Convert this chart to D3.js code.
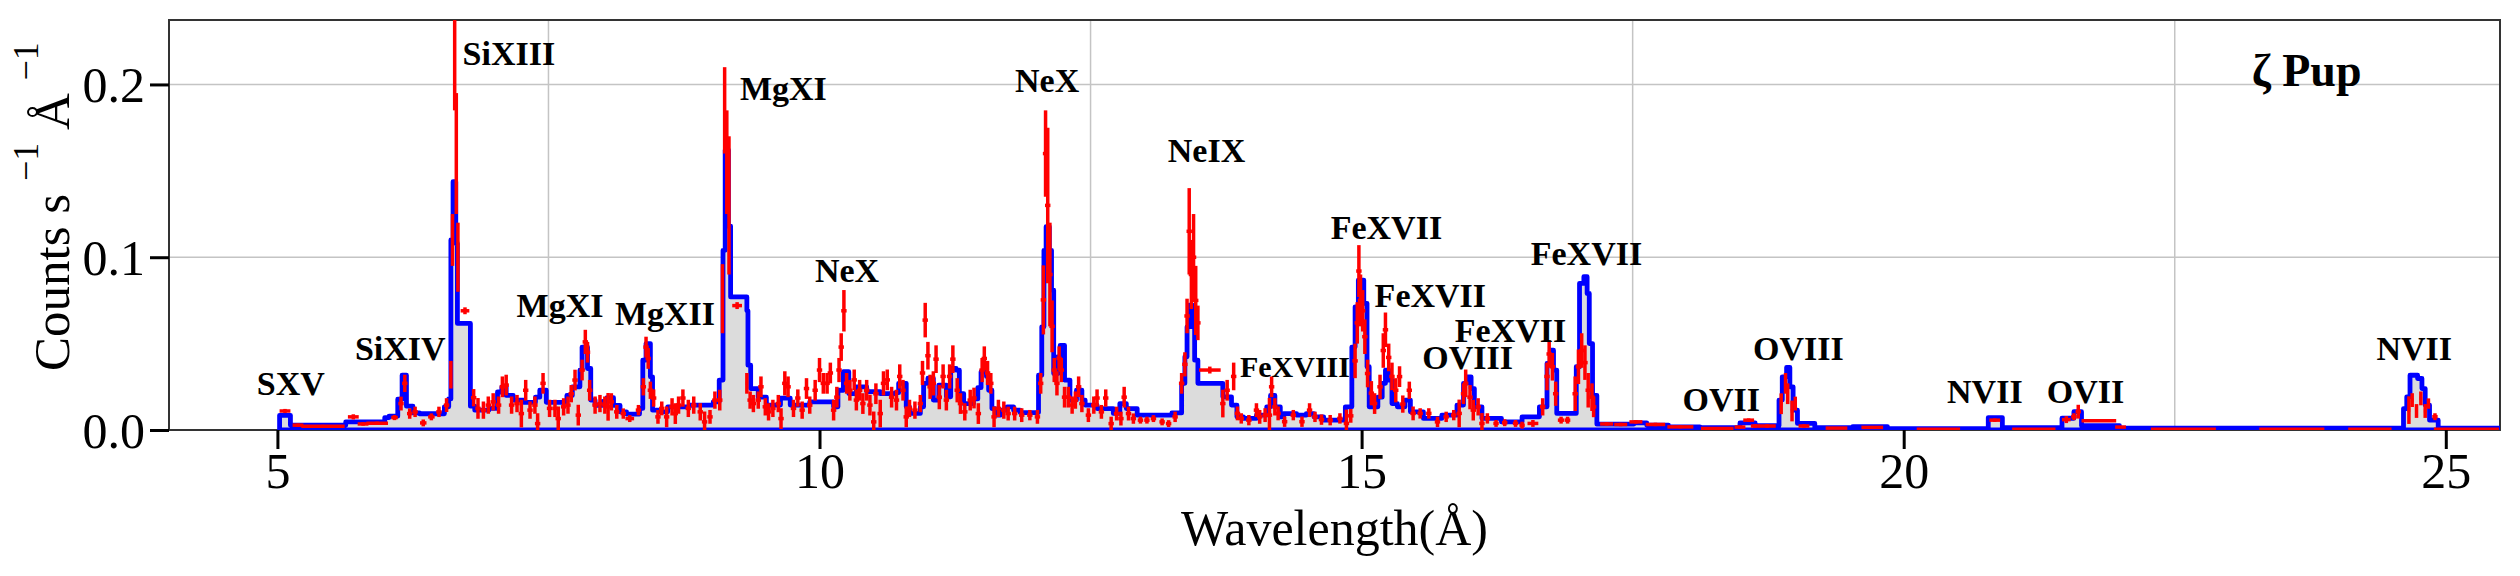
<!DOCTYPE html>
<html>
<head>
<meta charset="utf-8">
<script src="https://cdn.jsdelivr.net/npm/d3@7"></script>
<style>
  body { margin: 0; background: #fff; }
  text { font-family: "Liberation Serif", "Times New Roman", serif; }
</style>
</head>
<body>
<svg id="chart" width="2520" height="576"></svg>
<script>

// axes
const xDomain = [4, 25.5];
const yDomain = [0, 0.2373];
const xTicks = [5, 10, 15, 20, 25];
const yTicks = [0, 0.1, 0.2];
const xGrid = [7.5, 12.5, 17.5, 22.5];
const yGrid = [0.1, 0.2];

// model spectrum: [left bin edge (Å), counts/s/Å]
const modelSteps = [
  [5.02, 0.0085], [5.12, 0.0028], [5.63, 0.0047], [5.99, 0.0072], [6.03, 0.008],
  [6.11, 0.0178], [6.15, 0.0317], [6.19, 0.0138], [6.25, 0.0099], [6.31, 0.0094],
  [6.54, 0.0134], [6.58, 0.018], [6.60, 0.11], [6.62, 0.1437], [6.645, 0.108],
  [6.66, 0.0617], [6.78, 0.0138], [6.82, 0.0115], [6.95, 0.0125], [7.03, 0.022],
  [7.07, 0.025], [7.11, 0.020], [7.175, 0.0173], [7.27, 0.016], [7.38, 0.019],
  [7.42, 0.023], [7.48, 0.016], [7.67, 0.020], [7.72, 0.025], [7.79, 0.0346],
  [7.81, 0.048], [7.86, 0.0356], [7.89, 0.0173], [7.93, 0.0143], [8.00, 0.0165],
  [8.04, 0.0187], [8.10, 0.0143], [8.16, 0.0105], [8.22, 0.0092], [8.34, 0.0125],
  [8.37, 0.0404], [8.40, 0.050], [8.44, 0.0308], [8.46, 0.0115], [8.53, 0.0105],
  [8.60, 0.0134], [8.80, 0.0144], [9.02, 0.0163], [9.075, 0.0289], [9.11, 0.104],
  [9.13, 0.162], [9.16, 0.118], [9.18, 0.077], [9.33, 0.069], [9.34, 0.0375],
  [9.365, 0.024], [9.435, 0.019], [9.51, 0.0144], [9.64, 0.0185], [9.73, 0.0144],
  [9.91, 0.0163], [10.13, 0.0134], [10.17, 0.023], [10.22, 0.0337], [10.27, 0.0211],
  [10.34, 0.025], [10.435, 0.0222], [10.56, 0.021], [10.70, 0.0216], [10.73, 0.027],
  [10.80, 0.0134], [10.83, 0.0096], [10.93, 0.0134], [10.96, 0.027], [11.00, 0.030],
  [11.05, 0.0173], [11.10, 0.026], [11.17, 0.0192], [11.21, 0.0356], [11.26, 0.0346],
  [11.29, 0.021], [11.33, 0.0153], [11.42, 0.018], [11.46, 0.0245], [11.49, 0.0337],
  [11.54, 0.031], [11.56, 0.023], [11.59, 0.0124], [11.62, 0.0086], [11.67, 0.0115],
  [11.73, 0.0134], [11.79, 0.0115], [11.85, 0.0101], [12.02, 0.0317], [12.05, 0.0597],
  [12.07, 0.104], [12.09, 0.1177], [12.12, 0.104], [12.14, 0.0809], [12.16, 0.0327],
  [12.20, 0.0424], [12.22, 0.049], [12.26, 0.0289], [12.31, 0.0173], [12.37, 0.023],
  [12.42, 0.0173], [12.45, 0.0144], [12.56, 0.0124], [12.71, 0.0096], [12.77, 0.0153],
  [12.83, 0.0124], [12.93, 0.0086], [13.25, 0.0099], [13.34, 0.027], [13.37, 0.0424],
  [13.39, 0.0597], [13.41, 0.0723], [13.44, 0.0597], [13.46, 0.0404], [13.49, 0.027],
  [13.72, 0.0192], [13.80, 0.0144], [13.85, 0.0076], [13.91, 0.0067], [14.03, 0.0086],
  [14.125, 0.0134], [14.16, 0.020], [14.20, 0.0134], [14.25, 0.0076], [14.28, 0.0095],
  [14.40, 0.0086], [14.49, 0.0095], [14.56, 0.0076], [14.65, 0.0057], [14.85, 0.0134],
  [14.91, 0.048], [14.94, 0.0713], [14.97, 0.0868], [15.02, 0.0733], [15.05, 0.0366],
  [15.07, 0.0134], [15.15, 0.019], [15.19, 0.027], [15.22, 0.0347], [15.25, 0.0289],
  [15.28, 0.0153], [15.33, 0.0134], [15.40, 0.0173], [15.45, 0.0105], [15.57, 0.0067],
  [15.74, 0.0086], [15.88, 0.0144], [15.94, 0.027], [15.97, 0.0308], [16.01, 0.024],
  [16.04, 0.0134], [16.11, 0.0067], [16.29, 0.0047], [16.48, 0.0076], [16.64, 0.0134],
  [16.71, 0.0385], [16.74, 0.0462], [16.77, 0.0347], [16.80, 0.0096], [16.98, 0.0366],
  [17.01, 0.0849], [17.05, 0.0887], [17.08, 0.079], [17.10, 0.050], [17.13, 0.020],
  [17.17, 0.0034], [17.51, 0.0041], [17.63, 0.0028], [17.83, 0.0018], [18.12, 0.0014],
  [18.49, 0.0041], [18.63, 0.0025], [18.85, 0.0173], [18.88, 0.0308], [18.92, 0.0362],
  [18.95, 0.025], [18.98, 0.0115], [19.02, 0.0038], [19.18, 0.0014], [19.53, 0.002],
  [19.85, 0.0008], [20.78, 0.0072], [20.91, 0.0014], [21.46, 0.0068], [21.57, 0.0106],
  [21.64, 0.0025], [21.99, 0.001], [24.61, 0.0124], [24.64, 0.0192], [24.67, 0.0317],
  [24.74, 0.0298], [24.78, 0.024], [24.81, 0.0144], [24.85, 0.0057], [24.93, 0.001]
];
const modelEnd = 25.6;

// observed spectrum: [wavelength (Å), counts/s/Å, error, half bin width (default 0.025)]
const observed = [
  [5.07, 0.011, 0.0012, 0.05], [5.19, 0.0028, 0.001, 0.05], [5.42, 0.0022, 0.0008, 0.2],
  [5.70, 0.0076, 0.0015, 0.05], [5.79, 0.0035, 0.001, 0.05], [5.92, 0.0039, 0.001, 0.1],
  [6.08, 0.0072, 0.0015, 0.03], [6.14, 0.0153, 0.004], [6.175, 0.027, 0.005],
  [6.22, 0.0095, 0.003], [6.27, 0.0105, 0.003], [6.345, 0.0041, 0.002, 0.03],
  [6.42, 0.0076, 0.002, 0.03], [6.49, 0.0105, 0.003], [6.56, 0.0144, 0.004],
  [6.60, 0.032, 0.008, 0.01], [6.615, 0.11, 0.015, 0.008], [6.635, 0.215, 0.03, 0.008],
  [6.65, 0.16, 0.035, 0.008], [6.665, 0.10, 0.02, 0.008], [6.73, 0.069, 0.002, 0.04],
  [6.81, 0.0187, 0.005], [6.85, 0.0125, 0.006], [6.90, 0.0115, 0.005], [6.945, 0.0144, 0.005],
  [6.99, 0.0163, 0.005], [7.04, 0.0144, 0.005], [7.075, 0.025, 0.006], [7.11, 0.026, 0.006],
  [7.16, 0.0144, 0.005], [7.21, 0.0153, 0.005], [7.25, 0.0095, 0.008], [7.29, 0.023, 0.006],
  [7.33, 0.0115, 0.005], [7.375, 0.0144, 0.005], [7.40, 0.0037, 0.006], [7.45, 0.027, 0.006],
  [7.51, 0.0125, 0.005], [7.56, 0.0125, 0.005], [7.59, 0.0066, 0.007], [7.64, 0.0134, 0.005],
  [7.68, 0.0144, 0.005], [7.71, 0.021, 0.005], [7.745, 0.0289, 0.006], [7.775, 0.0086, 0.006],
  [7.81, 0.0347, 0.006], [7.84, 0.051, 0.007], [7.86, 0.045, 0.006], [7.88, 0.023, 0.006],
  [7.93, 0.0144, 0.005], [7.975, 0.0153, 0.005], [8.02, 0.0144, 0.005], [8.05, 0.0134, 0.008],
  [8.08, 0.0163, 0.005], [8.13, 0.0105, 0.004], [8.19, 0.0095, 0.003], [8.25, 0.0066, 0.002, 0.04],
  [8.33, 0.0115, 0.003], [8.375, 0.025, 0.005], [8.40, 0.048, 0.006], [8.42, 0.0414, 0.006],
  [8.44, 0.023, 0.005], [8.47, 0.0185, 0.005], [8.51, 0.0076, 0.004], [8.545, 0.0125, 0.004],
  [8.59, 0.0076, 0.006], [8.64, 0.0134, 0.005], [8.67, 0.0095, 0.006], [8.70, 0.0144, 0.005],
  [8.74, 0.0185, 0.005], [8.79, 0.0125, 0.005], [8.84, 0.0144, 0.005], [8.90, 0.0105, 0.005],
  [8.94, 0.0047, 0.006], [8.99, 0.0076, 0.004], [9.035, 0.0173, 0.005], [9.08, 0.0173, 0.006],
  [9.105, 0.076, 0.02, 0.01], [9.125, 0.185, 0.025, 0.008], [9.145, 0.155, 0.03, 0.008],
  [9.165, 0.13, 0.04, 0.008], [9.24, 0.072, 0.002, 0.045], [9.33, 0.027, 0.006, 0.01],
  [9.36, 0.0173, 0.005], [9.39, 0.0153, 0.005], [9.435, 0.0173, 0.005], [9.46, 0.025, 0.006],
  [9.50, 0.0134, 0.005], [9.53, 0.0105, 0.005], [9.57, 0.0125, 0.005], [9.62, 0.0153, 0.005],
  [9.645, 0.0066, 0.006], [9.68, 0.027, 0.007], [9.71, 0.025, 0.006], [9.76, 0.0125, 0.005],
  [9.80, 0.0185, 0.005], [9.84, 0.0115, 0.005], [9.88, 0.024, 0.006], [9.91, 0.0144, 0.005],
  [9.96, 0.023, 0.006], [10.00, 0.0347, 0.007], [10.035, 0.027, 0.006], [10.07, 0.027, 0.006],
  [10.10, 0.033, 0.006], [10.13, 0.0115, 0.006], [10.16, 0.019, 0.006], [10.18, 0.0347, 0.007],
  [10.20, 0.048, 0.008], [10.225, 0.069, 0.012], [10.25, 0.027, 0.006], [10.28, 0.023, 0.006],
  [10.32, 0.029, 0.006], [10.34, 0.0173, 0.006], [10.37, 0.023, 0.006], [10.40, 0.0153, 0.006],
  [10.435, 0.023, 0.006], [10.465, 0.0144, 0.006], [10.50, 0.0047, 0.006], [10.52, 0.021, 0.006],
  [10.56, 0.0095, 0.008], [10.59, 0.027, 0.007], [10.625, 0.029, 0.006], [10.665, 0.019, 0.006],
  [10.71, 0.0173, 0.006], [10.74, 0.031, 0.007], [10.77, 0.023, 0.006], [10.80, 0.0076, 0.006],
  [10.83, 0.0125, 0.005], [10.88, 0.0115, 0.005], [10.93, 0.0153, 0.005], [10.95, 0.033, 0.007],
  [10.975, 0.0636, 0.01], [11.00, 0.043, 0.008], [11.02, 0.025, 0.007], [11.05, 0.027, 0.007],
  [11.075, 0.041, 0.008], [11.105, 0.019, 0.007], [11.14, 0.031, 0.007], [11.17, 0.0173, 0.006],
  [11.20, 0.031, 0.007], [11.23, 0.041, 0.008], [11.27, 0.023, 0.007], [11.30, 0.0153, 0.006],
  [11.34, 0.0105, 0.005], [11.39, 0.0173, 0.006], [11.425, 0.0185, 0.006], [11.465, 0.0095, 0.006],
  [11.50, 0.0347, 0.007], [11.52, 0.0414, 0.007], [11.55, 0.033, 0.007], [11.58, 0.027, 0.006],
  [11.61, 0.0076, 0.006], [11.65, 0.0125, 0.005], [11.70, 0.0115, 0.005], [11.74, 0.0095, 0.004],
  [11.80, 0.0095, 0.004], [11.865, 0.0086, 0.004], [11.94, 0.0086, 0.003], [12.01, 0.0076, 0.004],
  [12.04, 0.027, 0.006], [12.065, 0.0753, 0.02], [12.085, 0.16, 0.025], [12.105, 0.13, 0.045],
  [12.125, 0.09, 0.03], [12.145, 0.06, 0.015], [12.165, 0.0347, 0.007], [12.19, 0.027, 0.007],
  [12.21, 0.0414, 0.007], [12.23, 0.0347, 0.007], [12.26, 0.019, 0.006], [12.295, 0.019, 0.006],
  [12.33, 0.0144, 0.005], [12.36, 0.0173, 0.005], [12.39, 0.025, 0.006], [12.42, 0.0153, 0.005],
  [12.48, 0.0086, 0.004], [12.53, 0.0144, 0.005], [12.56, 0.0185, 0.005], [12.60, 0.0105, 0.004],
  [12.64, 0.0185, 0.005], [12.69, 0.0037, 0.004], [12.74, 0.0095, 0.004], [12.78, 0.0066, 0.004],
  [12.81, 0.019, 0.006], [12.85, 0.0095, 0.004], [12.895, 0.0066, 0.003], [12.96, 0.0057, 0.002],
  [13.02, 0.0057, 0.002], [13.08, 0.0066, 0.002], [13.16, 0.0047, 0.002], [13.22, 0.0037, 0.002],
  [13.28, 0.0076, 0.003], [13.34, 0.027, 0.006], [13.37, 0.038, 0.007], [13.39, 0.066, 0.01],
  [13.41, 0.115, 0.025], [13.43, 0.09, 0.02], [13.45, 0.10, 0.025], [13.47, 0.075, 0.02],
  [13.49, 0.062, 0.01], [13.60, 0.0347, 0.002, 0.1], [13.72, 0.0153, 0.008], [13.76, 0.023, 0.006],
  [13.82, 0.031, 0.008], [13.855, 0.0096, 0.004], [13.89, 0.0067, 0.003], [13.96, 0.0057, 0.003],
  [14.03, 0.0115, 0.004], [14.06, 0.0076, 0.004], [14.11, 0.0086, 0.004], [14.15, 0.0086, 0.01],
  [14.17, 0.025, 0.006], [14.20, 0.0134, 0.005], [14.23, 0.0096, 0.004], [14.29, 0.0048, 0.003],
  [14.37, 0.0086, 0.003], [14.45, 0.0048, 0.003], [14.52, 0.0115, 0.004], [14.57, 0.0076, 0.003],
  [14.63, 0.006, 0.003], [14.71, 0.0057, 0.003], [14.80, 0.0067, 0.003], [14.86, 0.0038, 0.008],
  [14.90, 0.0082, 0.004], [14.94, 0.04, 0.01], [14.96, 0.062, 0.012], [14.975, 0.092, 0.015],
  [14.99, 0.075, 0.015], [15.01, 0.069, 0.012], [15.03, 0.054, 0.01], [15.055, 0.0327, 0.008],
  [15.09, 0.0213, 0.007], [15.12, 0.0153, 0.006], [15.17, 0.025, 0.007], [15.20, 0.046, 0.01],
  [15.22, 0.058, 0.01], [15.25, 0.042, 0.008], [15.28, 0.031, 0.008], [15.315, 0.023, 0.007],
  [15.35, 0.0309, 0.006], [15.38, 0.015, 0.005], [15.44, 0.023, 0.005], [15.475, 0.0096, 0.004],
  [15.54, 0.0096, 0.003], [15.62, 0.0096, 0.003], [15.70, 0.0047, 0.003], [15.78, 0.0076, 0.003],
  [15.85, 0.0086, 0.003], [15.90, 0.0096, 0.008], [15.94, 0.021, 0.006], [15.96, 0.027, 0.008],
  [16.00, 0.019, 0.007], [16.03, 0.0115, 0.006], [16.075, 0.0134, 0.005], [16.11, 0.0038, 0.006],
  [16.16, 0.0067, 0.003], [16.24, 0.0038, 0.002], [16.32, 0.0042, 0.002], [16.42, 0.0038, 0.002],
  [16.48, 0.0028, 0.002], [16.58, 0.0038, 0.002, 0.05], [16.67, 0.0134, 0.005], [16.71, 0.031, 0.008],
  [16.73, 0.044, 0.008], [16.76, 0.0366, 0.008], [16.79, 0.021, 0.007], [16.84, 0.0057, 0.002, 0.03],
  [16.90, 0.0057, 0.002], [16.97, 0.021, 0.01], [17.00, 0.0366, 0.01], [17.03, 0.046, 0.01],
  [17.06, 0.039, 0.01], [17.09, 0.023, 0.01], [17.125, 0.019, 0.008], [17.14, 0.0134, 0.006],
  [17.26, 0.0035, 0.001, 0.06], [17.39, 0.0032, 0.001, 0.06], [17.53, 0.0047, 0.001, 0.06],
  [17.71, 0.0032, 0.001, 0.09], [17.94, 0.0018, 0.0008, 0.12], [18.28, 0.0009, 0.0005, 0.15],
  [18.49, 0.0017, 0.0008, 0.05], [18.57, 0.0057, 0.001, 0.05], [18.63, 0.0023, 0.001, 0.04],
  [18.74, 0.0023, 0.001, 0.08], [18.87, 0.0152, 0.006, 0.012], [18.91, 0.027, 0.006, 0.012],
  [18.93, 0.021, 0.006, 0.012], [18.97, 0.011, 0.006, 0.012], [19.00, 0.0153, 0.004, 0.015],
  [19.08, 0.0023, 0.001, 0.05], [19.38, 0.0011, 0.0005, 0.1], [19.71, 0.0015, 0.0005, 0.1],
  [20.32, 0.0005, 0.0003, 0.2], [20.84, 0.0057, 0.001, 0.05], [21.20, 0.0005, 0.0003, 0.2],
  [21.50, 0.006, 0.002, 0.04], [21.57, 0.0077, 0.002], [21.61, 0.0106, 0.004],
  [21.80, 0.0053, 0.0005, 0.16], [22.00, 0.0017, 0.0005, 0.05], [22.58, 0.0005, 0.0003, 0.3],
  [23.58, 0.0005, 0.0003, 0.3], [24.30, 0.0005, 0.0003, 0.2], [24.66, 0.0115, 0.008, 0.012],
  [24.69, 0.0173, 0.004, 0.012], [24.73, 0.011, 0.004, 0.012], [24.77, 0.0183, 0.004, 0.012],
  [24.81, 0.011, 0.004, 0.012], [24.84, 0.0153, 0.003, 0.012], [24.90, 0.0077, 0.002],
  [25.19, 0.0005, 0.0003, 0.3]
];

// line identifications: [ion, wavelength at left edge of text, flux at baseline]
const lineLabels = [
  ['SXV', 4.81, 0.0202], ['SiXIV', 5.715, 0.0404], ['SiXIII', 6.708, 0.2113],
  ['MgXI', 7.206, 0.0655], ['MgXII', 8.113, 0.0607], ['MgXI', 9.266, 0.1911],
  ['NeX', 9.958, 0.0858], ['NeX', 11.803, 0.1959], ['NeIX', 13.212, 0.1554],
  ['FeXVIII', 13.878, 0.0304], ['FeXVII', 14.715, 0.1104], ['FeXVII', 15.12, 0.071],
  ['OVIII', 15.56, 0.0352], ['FeXVII', 15.86, 0.0508], ['FeXVII', 16.56, 0.0955],
  ['OVII', 17.96, 0.0108], ['OVIII', 18.61, 0.0404], ['NVII', 20.40, 0.0157],
  ['OVII', 21.32, 0.0159], ['NVII', 24.36, 0.0404]
];
const smallLabels = ['FeXVIII'];
const starName = ['ζ Pup', 23.21, 0.199];


function spectrumChart() {
  let left = 169, right = 2500, top = 20, bottom = 430;
  let svg = d3.select('#chart');

  let x = d3.scaleLinear().domain(xDomain).range([left, right]);
  let y = d3.scaleLinear().domain(yDomain).range([bottom, top]);

  svg.append('defs').append('clipPath')
    .attr('id', 'plot-clip')
    .append('rect')
    .attr('x', left).attr('y', top)
    .attr('width', right - left).attr('height', bottom - top);

  // grid lines (only the in-between ones, like the original)
  let grid = svg.append('g').attr('stroke', '#c4c4c4').attr('stroke-width', 1.5);
  grid.selectAll('line.gx').data(xGrid).enter().append('line')
    .attr('x1', d => x(d)).attr('x2', d => x(d))
    .attr('y1', top).attr('y2', bottom);
  grid.selectAll('line.gy').data(yGrid).enter().append('line')
    .attr('x1', left).attr('x2', right)
    .attr('y1', d => y(d)).attr('y2', d => y(d));

  // panel border
  svg.append('rect')
    .attr('x', left).attr('y', top)
    .attr('width', right - left).attr('height', bottom - top)
    .attr('fill', 'none').attr('stroke', '#333').attr('stroke-width', 2);

  let plot = svg.append('g').attr('clip-path', 'url(#plot-clip)');

  // model: grey filled histogram with blue outline
  let steps = modelSteps.concat([[modelEnd, modelSteps[modelSteps.length - 1][1]]]);
  let area = d3.area()
    .curve(d3.curveStepAfter)
    .x(d => x(d[0]))
    .y0(y(0))
    .y1(d => y(d[1]));

  plot.append('path').datum(steps)
    .attr('d', area)
    .attr('fill', '#dcdcdc');
  plot.append('path').datum(steps)
    .attr('d', area)
    .attr('fill', 'none')
    .attr('stroke', '#0000ff')
    .attr('stroke-width', 4.8)
    .attr('stroke-linejoin', 'round');

  // observed data with error bars
  let obs = plot.append('g').attr('stroke', '#ff0000').attr('stroke-width', 3.5);
  obs.selectAll('line.err').data(observed).enter().append('line')
    .attr('x1', d => x(d[0])).attr('x2', d => x(d[0]))
    .attr('y1', d => y(d[1] - d[2])).attr('y2', d => y(d[1] + d[2]));
  obs.selectAll('line.bin').data(observed).enter().append('line')
    .attr('x1', d => x(d[0] - (d[3] || 0.025))).attr('x2', d => x(d[0] + (d[3] || 0.025)))
    .attr('y1', d => y(d[1])).attr('y2', d => y(d[1]));

  // axes
  let xAxis = svg.append('g')
    .attr('transform', `translate(0,${bottom})`)
    .call(d3.axisBottom(x).tickValues(xTicks).tickSize(19).tickFormat(d3.format('d')));
  let yAxis = svg.append('g')
    .attr('transform', `translate(${left},0)`)
    .call(d3.axisLeft(y).tickValues(yTicks).tickSize(19).tickFormat(d3.format('.1f')));

  [xAxis, yAxis].forEach(ax => {
    ax.select('.domain').remove();
    ax.selectAll('.tick line').attr('stroke', '#000').attr('stroke-width', 3);
    ax.selectAll('.tick text')
      .attr('fill', '#000')
      .style('font-size', '50px')
      .style('font-family', '"Liberation Serif", "Times New Roman", serif');
  });
  xAxis.selectAll('.tick text').attr('y', 58).attr('dy', 0);
  yAxis.selectAll('.tick text').attr('x', -24).attr('dy', '0.34em');

  // axis titles
  svg.append('text')
    .attr('x', (left + right) / 2).attr('y', 545)
    .attr('text-anchor', 'middle')
    .style('font-size', '50px')
    .text('Wavelength(Å)');

  let ytitle = svg.append('text')
    .attr('transform', 'translate(69,371) rotate(-90)')
    .style('font-size', '51px');
  ytitle.append('tspan').text('Counts s ');
  ytitle.append('tspan').attr('dy', -31).style('font-size', '36px').text('−1');
  ytitle.append('tspan').attr('dy', 31).text(' Å ');
  ytitle.append('tspan').attr('dy', -31).style('font-size', '36px').text('−1');

  // ion labels
  svg.append('g').selectAll('text').data(lineLabels).enter().append('text')
    .attr('x', d => x(d[1]))
    .attr('y', d => y(d[2]))
    .style('font-weight', 'bold')
    .style('font-size', d => smallLabels.includes(d[0]) ? '30px' : '34px')
    .text(d => d[0]);

  svg.append('text')
    .attr('x', x(starName[1])).attr('y', y(starName[2]))
    .style('font-weight', 'bold')
    .style('font-size', '46px')
    .text(starName[0]);
}

spectrumChart();
</script>
</body>
</html>
